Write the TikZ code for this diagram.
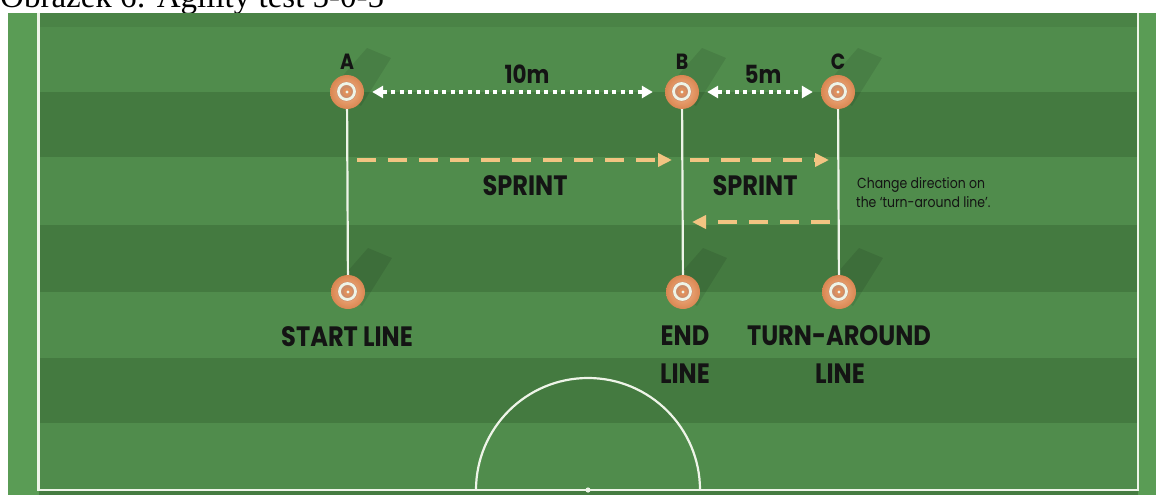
\documentclass[tikz,border=0pt]{standalone}
\usepackage{fontspec}
\setmainfont{Liberation Serif}
\newfontfamily\lblfont{Poppins}[FakeStretch=0.86]
\usetikzlibrary{arrows.meta}

\definecolor{grassL}{HTML}{508C4C}
\definecolor{grassD}{HTML}{447A40}
\definecolor{grassOut}{HTML}{5A9C55}
\definecolor{chalk}{HTML}{EEF4E8}
\definecolor{coneL}{HTML}{F5B58A}
\definecolor{coneD}{HTML}{D98752}
\definecolor{coneC}{HTML}{CC8C68}
\definecolor{runC}{HTML}{F2C482}
\definecolor{ink}{HTML}{141414}

\tikzset{
  conemark/.style={circle, minimum size=34pt, inner sep=0pt, inner color=coneL, outer color=coneD},
  bigtxt/.style={font=\lblfont\bfseries\fontsize{28}{34}\selectfont, text=ink, inner sep=0pt, anchor=base},
  lettertxt/.style={font=\lblfont\bfseries\fontsize{22}{26}\selectfont, text=ink, inner sep=0pt, anchor=base},
  disttxt/.style={font=\lblfont\bfseries\fontsize{25}{30}\selectfont, text=ink, inner sep=0pt, anchor=base},
  notetxt/.style={font=\lblfont\fontsize{14.5}{19}\selectfont, text=ink, inner sep=0pt, anchor=base west},
  dist/.style={draw=white, line width=4pt, dash pattern=on 4pt off 4.5pt,
    {Triangle[width=12pt,length=11pt]}-{Triangle[width=12pt,length=11pt]}},
  run/.style={draw=runC, line width=4.5pt, dash pattern=on 19pt off 12pt,
    -{Triangle[width=13pt,length=14pt]}},
  chalkline/.style={draw=chalk, line width=2.2pt},
  coneshadow/.style={fill=black, opacity=0.09},
}

\begin{document}
\begin{tikzpicture}[x=1pt,y=-1pt]
\useasboundingbox (0,0) rectangle (1156,495);

% paper and caption (the pitch image covers its lower part)
\fill[white] (0,0) rectangle (1156,495);
\node[font=\fontsize{33}{36}\selectfont, inner sep=0pt, anchor=base west] (caption) at (0,8) {Obrázek 6: Agility test 5-0-5};

% grass: outer strip and mown bands
\fill[grassOut] (8,13) rectangle (1156,495);
\foreach \ya/\yb/\col in {13/27/grassD!50!grassL, 27/92/grassL, 92/157/grassD, 157/225/grassL,
                          225/292/grassD, 292/358/grassL, 358/423/grassD, 423/490/grassL}
  \fill[\col] (39,\ya) rectangle (1138,\yb);
\fill[grassD!90!grassL] (39,490) rectangle (1138,495);

% pitch markings
\draw[chalkline, line width=2.6pt] (38.5,13) -- (38.5,490) -- (1138,490) -- (1138,13);
\draw[chalkline] (700,490) arc[start angle=0, end angle=180, radius=112pt];
\fill[chalk] (588,490) circle[radius=2.6pt];

% cone positions
\coordinate (pa1) at (347,92);
\coordinate (pb1) at (682,92);
\coordinate (pc1) at (838,92);
\coordinate (pa2) at (348,292);
\coordinate (pb2) at (683,292);
\coordinate (pc2) at (839,292);

% cone shadows
\foreach \p in {pa1,pb1,pc1,pa2,pb2,pc2}
  \fill[coneshadow] ([shift={(-15,-4)}]\p) -- ([shift={(20,-44)}]\p) -- ([shift={(44,-34)}]\p) -- ([shift={(14,14)}]\p) -- cycle;

% cones
\node[conemark] (a1) at (pa1) {};
\node[conemark] (b1) at (pb1) {};
\node[conemark] (c1) at (pc1) {};
\node[conemark] (a2) at (pa2) {};
\node[conemark] (b2) at (pb2) {};
\node[conemark] (c2) at (pc2) {};
\foreach \n in {a1,b1,c1,a2,b2,c2} {
  \fill[coneC] ([shift={(-0.5,-0.5)}]\n.center) circle[radius=10pt];
  \draw[chalk, line width=2.8pt] ([shift={(-0.5,-0.5)}]\n.center) circle[radius=8pt];
  \fill[coneD!80!coneL] (\n.center) circle[radius=4.5pt];
  \fill[chalk] (\n.center) circle[radius=1.7pt];
}

% start, end and turn-around lines
\draw[chalkline] (a1) -- (a2);
\draw[chalkline] (b1) -- (b2);
\draw[chalkline] (c1) -- (c2);

% distances
\draw[dist, shorten <=8pt, shorten >=12pt] (a1) -- (b1);
\draw[dist, shorten <=8pt, shorten >=8pt] (b1) -- (c1);
\node[disttxt] (d10) at (527,84) {10m};
\node[disttxt] (d5) at (763,84) {5m};

% cone letters
\node[lettertxt] (la) at (347,70) {A};
\node[lettertxt] (lb) at (682,70) {B};
\node[lettertxt] (lc) at (838,70) {C};

% sprint arrows
\coordinate (r1s) at (357,160);
\coordinate (r1e) at (672,160);
\coordinate (r2s) at (690,160);
\coordinate (r2e) at (829,160);
\coordinate (r3s) at (830,222);
\coordinate (r3e) at (692,222);
\draw[run] (r1s) -- (r1e);
\draw[run] (r2s) -- (r2e);
\draw[run] (r3s) -- (r3e);
\node[bigtxt] (sp1) at (525,195) {SPRINT};
\node[bigtxt] (sp2) at (755,195) {SPRINT};

% note
\node[notetxt] (n1) at (857,188) {Change direction on};
\node[notetxt] (n2) at (856,207) {the ‘turn-around line’.};

% line names
\node[bigtxt] (st) at (347,346) {START LINE};
\node[bigtxt] (en1) at (685,345) {END};
\node[bigtxt] (en2) at (685,383) {LINE};
\node[bigtxt] (tu1) at (839,345) {TURN-AROUND};
\node[bigtxt] (tu2) at (840,383) {LINE};
\end{tikzpicture}
\end{document}
